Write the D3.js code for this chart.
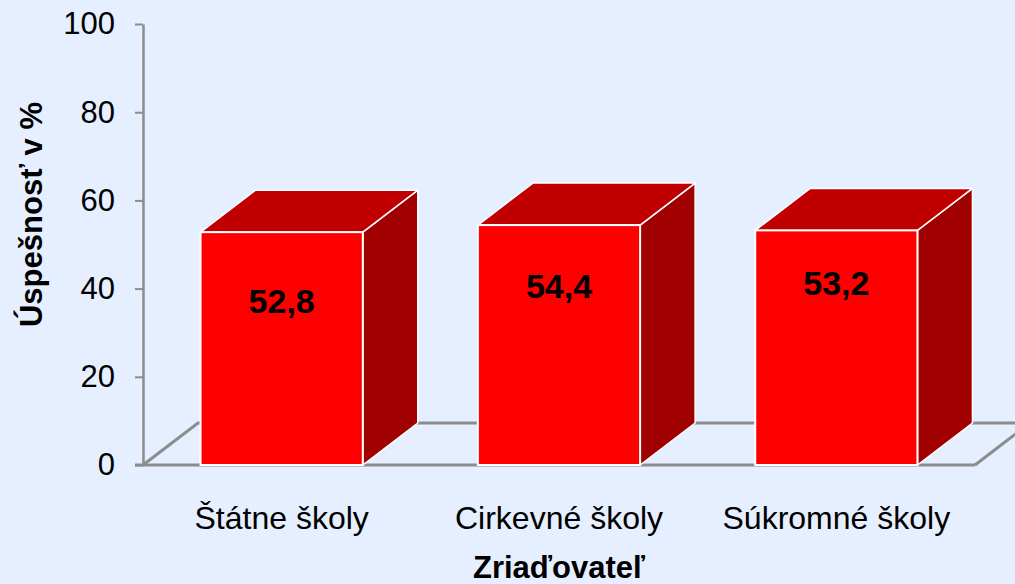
<!DOCTYPE html>
<html>
<head>
<meta charset="utf-8">
<style>
  html, body { margin: 0; padding: 0; background: #e6efff; }
  svg { display: block; font-family: "Liberation Sans", Arial, sans-serif; }
</style>
</head>
<body>
<div id="chart"></div>
<script src="https://d3js.org/d3.v7.min.js"></script>
<script>
  const categories = ["Štátne školy", "Cirkevné školy", "Súkromné školy"];
  const values = [52.8, 54.4, 53.2];
  const yTicks = [0, 20, 40, 60, 80, 100];

  const width = 1015;
  const height = 584;
  // 3D depth offset of the bars / floor
  const dx = 55;
  const dy = -42;

  const svg = d3
    .select("#chart")
    .append("svg")
    .attr("width", width)
    .attr("height", height);

  svg.append("rect").attr("width", width).attr("height", height).attr("fill", "#e6efff");

  const x = d3
    .scaleBand()
    .domain(categories)
    .range([143, 975])
    .paddingInner(0.415)
    .paddingOuter(0.2075);

  const y = d3.scaleLinear().domain([0, 100]).range([465, 24]);

  const gray = "#8c8c8c";
  const x0 = x.range()[0];
  const x1 = x.range()[1];
  const y0 = y(0);

  // floor
  const floor = svg.append("g").attr("fill", "none").attr("stroke", gray);
  floor
    .append("path")
    .attr("stroke-width", 3)
    .attr("d", `M${x0},${y0}L${x0 + dx},${y0 + dy}L${x1 + dx},${y0 + dy}`);
  floor
    .append("path")
    .attr("stroke-width", 3)
    .attr("d", `M${x1},${y0}L${x1 + dx},${y0 + dy}`);

  // y axis
  const yAxis = svg
    .append("g")
    .attr("transform", `translate(${x0},0)`)
    .call(d3.axisLeft(y).tickValues(yTicks).tickSize(8).tickSizeOuter(0).tickPadding(20));
  yAxis.select(".domain").attr("stroke", gray).attr("stroke-width", 2.5);
  yAxis.selectAll(".tick line").attr("stroke", gray).attr("stroke-width", 2);
  yAxis
    .selectAll(".tick text")
    .attr("fill", "#000")
    .style("font-size", "31px")
    .style("font-family", "Liberation Sans, Arial, sans-serif");

  // front edge of floor
  svg
    .append("line")
    .attr("x1", x0 - 8)
    .attr("x2", x1)
    .attr("y1", y0)
    .attr("y2", y0)
    .attr("stroke", gray)
    .attr("stroke-width", 3);

  // bars
  const bars = svg
    .append("g")
    .selectAll("g")
    .data(values)
    .enter()
    .append("g");

  const bw = x.bandwidth();

  bars
    .append("path")
    .attr("fill", "#a00000")
    .attr("stroke", "#fff")
    .attr("stroke-width", 1.5)
    .attr("stroke-linejoin", "round")
    .attr("d", (d, i) => {
      const xr = x(categories[i]) + bw;
      const yt = y(d);
      return `M${xr},${yt}L${xr + dx},${yt + dy}L${xr + dx},${y0 + dy}L${xr},${y0}Z`;
    });

  bars
    .append("path")
    .attr("fill", "#c00000")
    .attr("stroke", "#fff")
    .attr("stroke-width", 1.5)
    .attr("stroke-linejoin", "round")
    .attr("d", (d, i) => {
      const xl = x(categories[i]);
      const yt = y(d);
      return `M${xl},${yt}L${xl + dx},${yt + dy}L${xl + bw + dx},${yt + dy}L${xl + bw},${yt}Z`;
    });

  bars
    .append("rect")
    .attr("x", (d, i) => x(categories[i]))
    .attr("y", (d) => y(d))
    .attr("width", bw)
    .attr("height", (d) => y0 - y(d))
    .attr("fill", "#ff0000")
    .attr("stroke", "#fff")
    .attr("stroke-width", 2);

  // value labels
  bars
    .append("text")
    .attr("x", (d, i) => x(categories[i]) + bw / 2)
    .attr("y", (d, i) => y(d) + 81 - 8 * i)
    .attr("text-anchor", "middle")
    .style("font-size", "34px")
    .style("font-weight", "bold")
    .text((d) => d.toFixed(1).replace(".", ","));

  // category labels
  svg
    .append("g")
    .selectAll("text")
    .data(categories)
    .enter()
    .append("text")
    .attr("x", (d) => x(d) + bw / 2)
    .attr("y", 529)
    .attr("text-anchor", "middle")
    .style("font-size", "32px")
    .text((d) => d);

  // axis titles
  svg
    .append("text")
    .attr("x", (x0 + x1) / 2)
    .attr("y", 578)
    .attr("text-anchor", "middle")
    .style("font-size", "31px")
    .style("font-weight", "bold")
    .text("Zriaďovateľ");

  svg
    .append("text")
    .attr("transform", `translate(42,${(y(0) + y(100)) / 2 - 30}) rotate(-90)`)
    .attr("text-anchor", "middle")
    .style("font-size", "31px")
    .style("font-weight", "bold")
    .text("Úspešnosť v %");
</script>
</body>
</html>
